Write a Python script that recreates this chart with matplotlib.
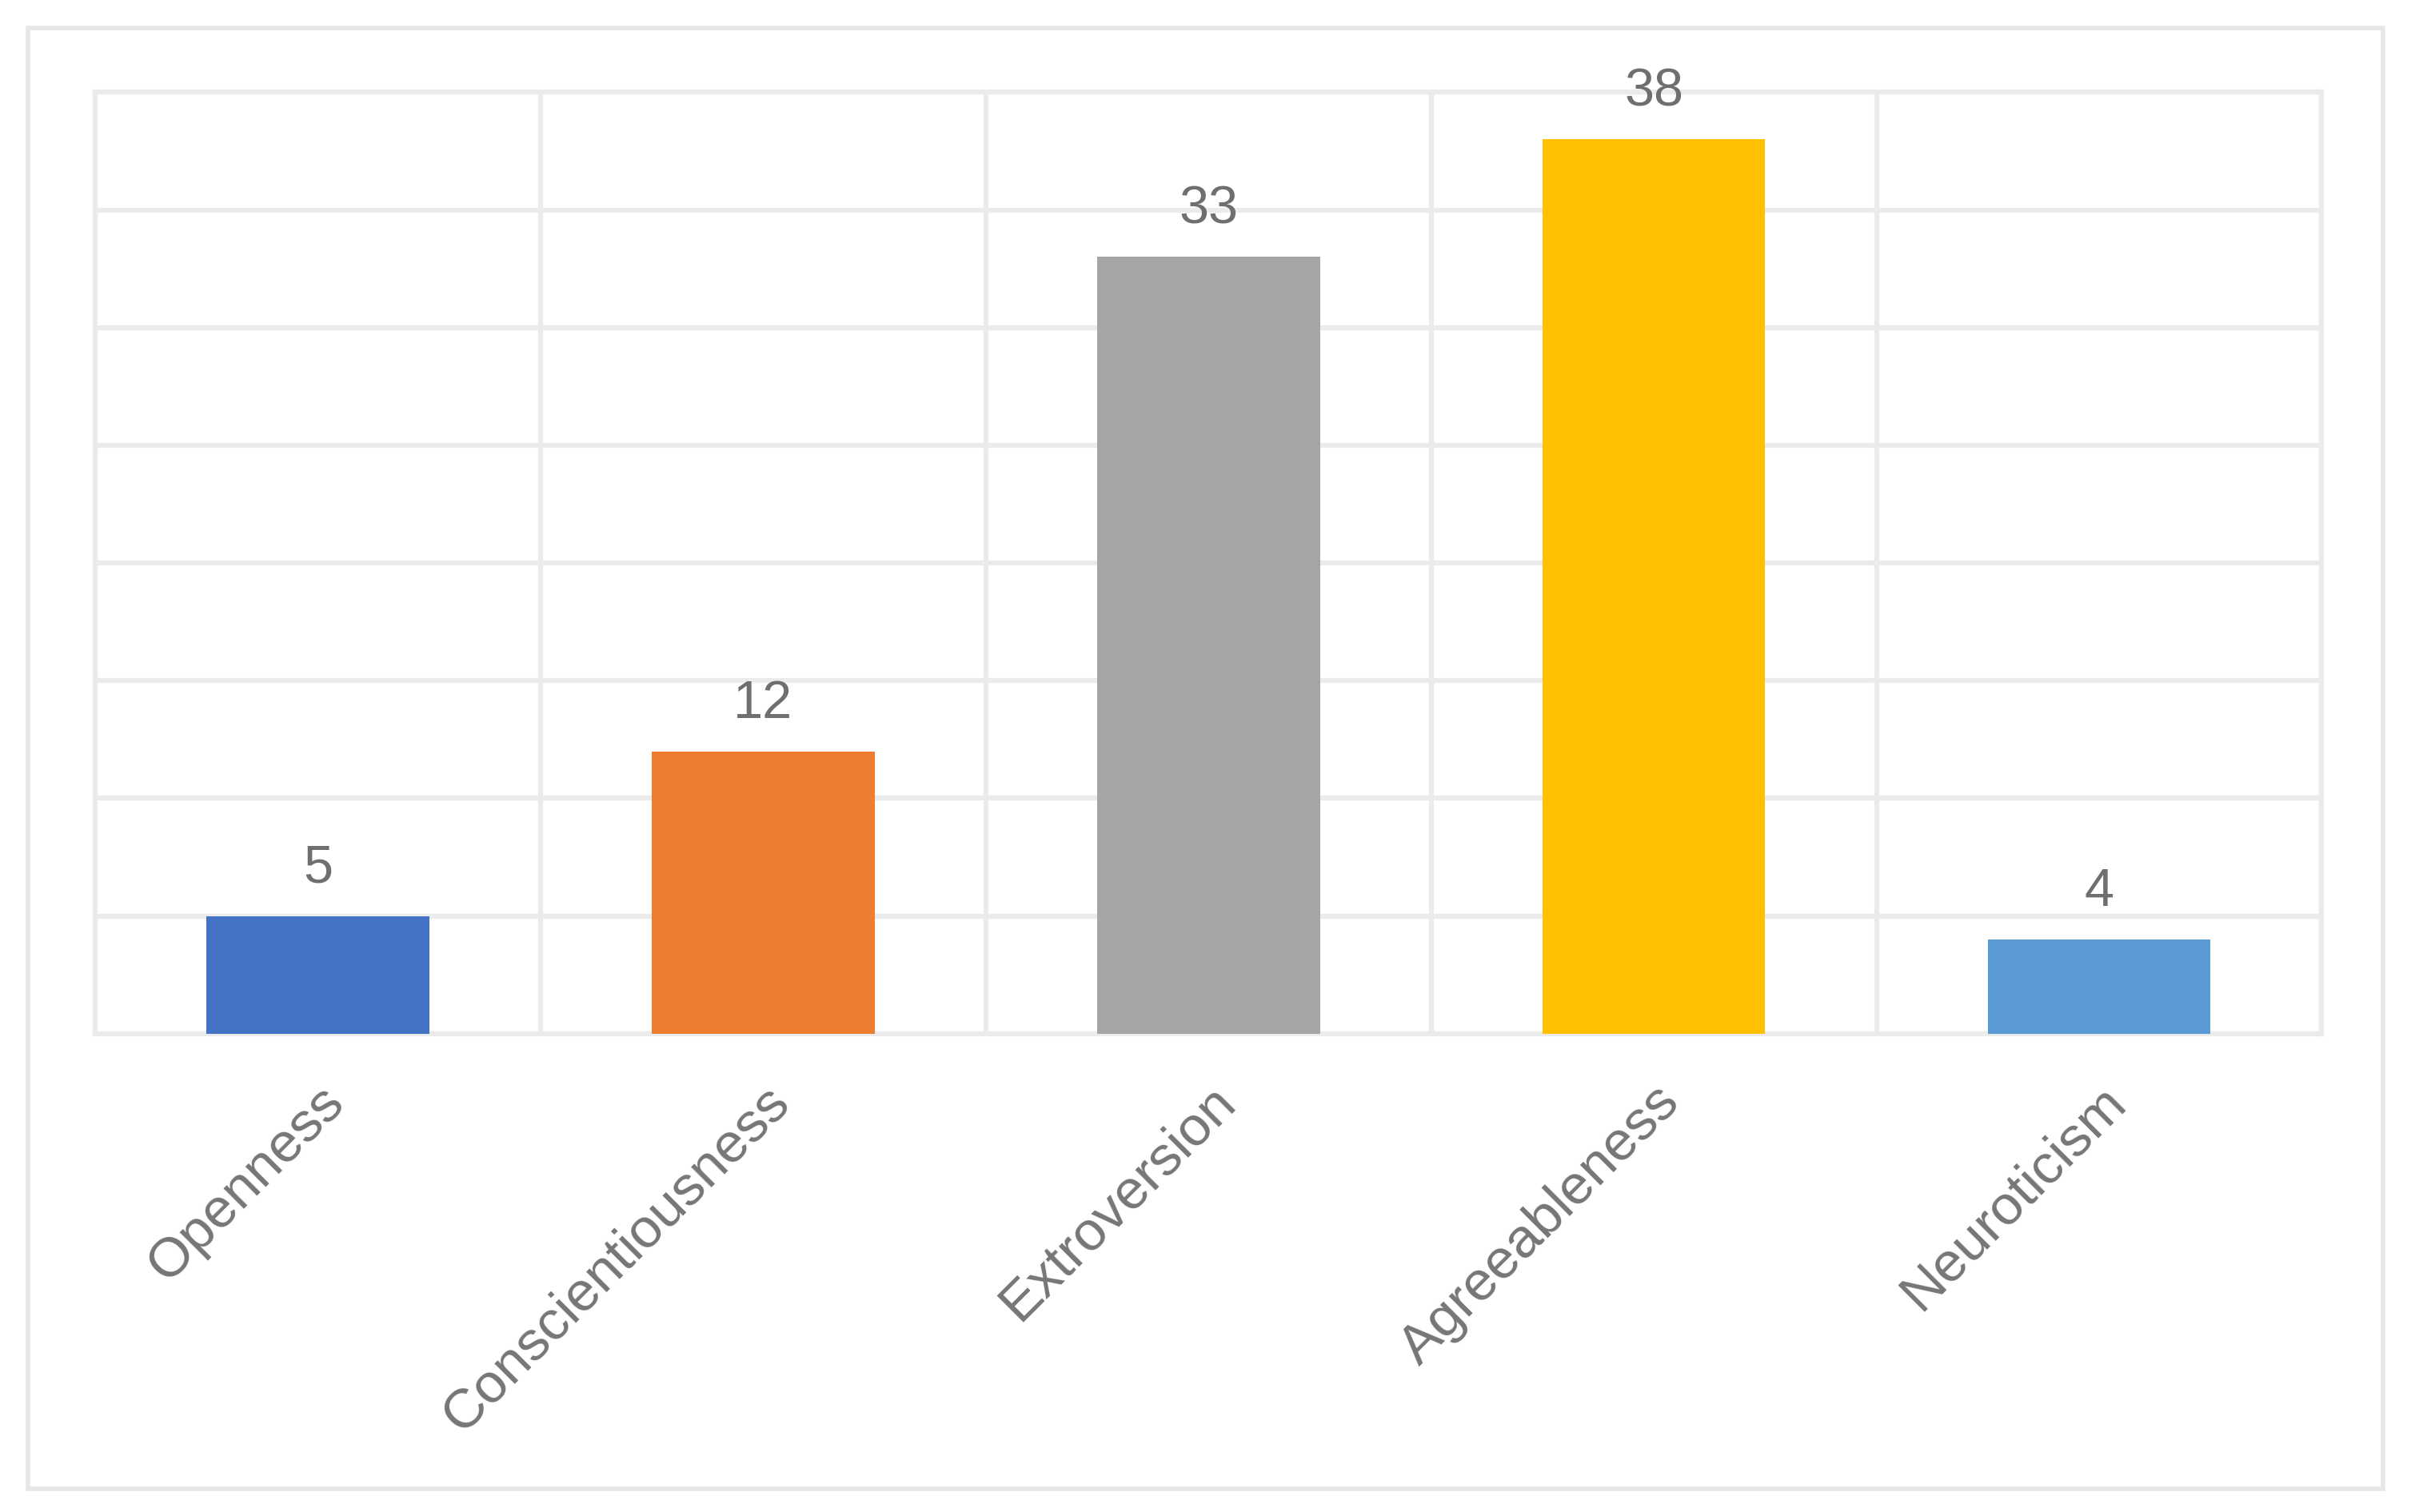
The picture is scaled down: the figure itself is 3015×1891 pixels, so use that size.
import matplotlib
matplotlib.use("Agg")
import matplotlib.pyplot as plt
from matplotlib.patches import Rectangle

categories = ["Openness", "Conscientiousness", "Extroversion", "Agreeableness", "Neuroticism"]
values = [5, 12, 33, 38, 4]
colors = ["#4472c4", "#ed7d31", "#a5a5a5", "#ffc000", "#5b9bd5"]

plt.rcParams['font.family'] = ['Liberation Sans', 'DejaVu Sans']
fig = plt.figure(figsize=(30.15, 18.91), dpi=100)
fig.patches.append(Rectangle((18/1568, 1-968/983), (1550-18)/1568, (968-18)/983,
                             transform=fig.transFigure, fill=False, ec="#e6e6e6", lw=4))
ax = fig.add_axes([62/1568, 1-672/983, (1510-62)/1568, (672-60)/983])
x = list(range(len(categories)))
ax.bar(x, values, width=0.5, color=colors, zorder=3)
ax.set_xlim(-0.5, len(categories)-0.5)
ax.set_ylim(0, 40)
ax.set_yticks(range(0, 41, 5))
ax.set_yticklabels([])
ax.set_xticks([i+0.5 for i in range(-1, len(categories))], minor=False)
ax.set_xticklabels([])
ax.set_xticks(x, minor=True)
ax.set_xticklabels(categories, minor=True, rotation=45, ha='right', va='top',
                   rotation_mode='anchor', fontsize=50, color="#767676")
ax.tick_params(which='both', length=0, pad=38)
ax.grid(True, which='major', color="#ebebeb", lw=4.5, zorder=0)
for s in ax.spines.values():
    s.set_color("#ebebeb"); s.set_linewidth(4.5)
for xi, v in zip(x, values):
    ax.annotate(str(v), (xi, v), xytext=(0, 20), textcoords='offset points',
                ha='center', va='bottom', fontsize=48, color="#6f6f6f")
fig.savefig("out.png", dpi=100)
